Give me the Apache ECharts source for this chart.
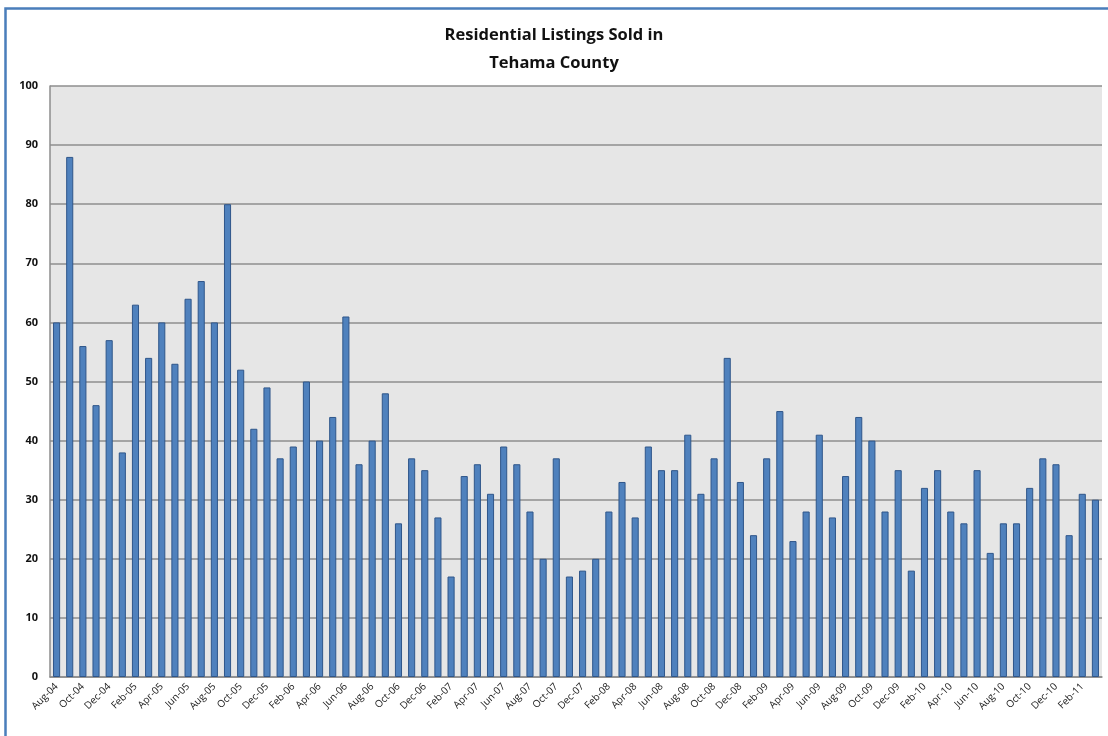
<!DOCTYPE html>
<html>
<head>
<meta charset="utf-8">
<script src="https://cdn.jsdelivr.net/npm/echarts@6/dist/echarts.min.js"></script>
<style>
html,body{margin:0;padding:0;background:#fff;}
#c{width:1108px;height:736px;}
</style>
</head>
<body>
<div id="c"></div>
<script>
const titleText = "Residential Listings Sold in\nTehama County";
const categories = [
  "Aug-04","Sep-04","Oct-04","Nov-04","Dec-04",
  "Jan-05","Feb-05","Mar-05","Apr-05","May-05","Jun-05","Jul-05","Aug-05","Sep-05","Oct-05","Nov-05","Dec-05",
  "Jan-06","Feb-06","Mar-06","Apr-06","May-06","Jun-06","Jul-06","Aug-06","Sep-06","Oct-06","Nov-06","Dec-06",
  "Jan-07","Feb-07","Mar-07","Apr-07","May-07","Jun-07","Jul-07","Aug-07","Sep-07","Oct-07","Nov-07","Dec-07",
  "Jan-08","Feb-08","Mar-08","Apr-08","May-08","Jun-08","Jul-08","Aug-08","Sep-08","Oct-08","Nov-08","Dec-08",
  "Jan-09","Feb-09","Mar-09","Apr-09","May-09","Jun-09","Jul-09","Aug-09","Sep-09","Oct-09","Nov-09","Dec-09",
  "Jan-10","Feb-10","Mar-10","Apr-10","May-10","Jun-10","Jul-10","Aug-10","Sep-10","Oct-10","Nov-10","Dec-10",
  "Jan-11","Feb-11","Mar-11"
];
const sold = [
  60,88,56,46,57,
  38,63,54,60,53,64,67,60,80,52,42,49,
  37,39,50,40,44,61,36,40,48,26,37,35,
  27,17,34,36,31,39,36,28,20,37,17,18,
  20,28,33,27,39,35,35,41,31,37,54,33,
  24,37,45,23,28,41,27,34,44,40,28,35,
  18,32,35,28,26,35,21,26,26,32,37,36,
  24,31,30
];
const yMin = 0, yMax = 100, yStep = 10;

const chart = echarts.init(document.getElementById('c'));
chart.setOption({
  backgroundColor: '#ffffff',
  animation: false,
  graphic: [{
    type: 'rect',
    shape: {x: 5.5, y: 8.5, width: 1200, height: 900},
    style: {fill: 'none', stroke: '#4a7ebb', lineWidth: 2.5},
    silent: true, z: 100
  }],
  title: {
    text: titleText,
    left: 'center',
    top: 16,
    textStyle: {fontFamily: 'Open Sans', fontWeight: 'bold', fontSize: 16.5, color: '#111', lineHeight: 28}
  },
  grid: {left: 50, right: 6, top: 86, bottom: 59, show: true, backgroundColor: '#e6e6e6', borderWidth: 0},
  xAxis: {
    type: 'category',
    data: categories,
    axisLine: {show: true, lineStyle: {color: '#8c8c8c', width: 1.5}},
    axisTick: {show: false},
    axisLabel: {
      interval: 1, rotate: 45, fontSize: 10, color: '#222', fontFamily: 'Open Sans',
      margin: 8
    },
    splitLine: {show: false}
  },
  yAxis: {
    type: 'value',
    min: yMin, max: yMax, interval: yStep,
    axisLine: {show: true, lineStyle: {color: '#8c8c8c', width: 1.5}},
    axisTick: {show: false},
    axisLabel: {fontSize: 11, fontWeight: 'bold', color: '#111', fontFamily: 'Open Sans', margin: 12},
    splitLine: {lineStyle: {color: '#8e8e8e', width: 1.5}}
  },
  series: [{
    type: 'bar',
    data: sold,
    barWidth: '54%',
    itemStyle: {color: '#4f81bd', borderColor: '#2f568a', borderWidth: 1}
  }]
});
</script>
</body>
</html>
